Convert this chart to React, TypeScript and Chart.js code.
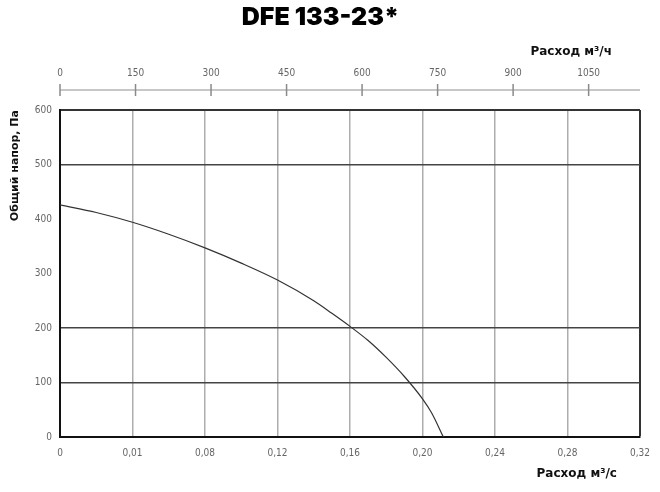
import React, { useEffect, useRef } from "react";
import Chart from "chart.js/auto";

// performance curve
const flowM3s = [0, 0.02, 0.04, 0.06, 0.08, 0.1, 0.12, 0.14, 0.15, 0.16, 0.17, 0.18, 0.19, 0.2, 0.205, 0.2115];
const pressurePa = [426, 412, 394, 372, 347, 319, 288, 250, 227, 203, 177, 146, 111, 70, 44.5, 0];

const xTickLabels = ["0", "0,01", "0,08", "0,12", "0,16", "0,20", "0,24", "0,28", "0,32"];
const yTickLabels = ["0", "100", "200", "300", "400", "500", "600"];
const topTickValues = [0, 150, 300, 450, 600, 750, 900, 1050];
const darkGridPa = [100, 200, 500];

const tickFont = { family: "'Liberation Sans Narrow', 'DejaVu Sans Condensed', sans-serif", size: 10 };
const boldFamily = "'DejaVu Sans', sans-serif";

const topAxisPlugin = {
    id: "topAxis",
    afterDraw(chart: any) {
        const ctx = chart.ctx;
        const area = chart.chartArea;
        const top = chart.scales.xTop;
        const lineY = area.top - 20;
        ctx.save();
        // axis line
        ctx.strokeStyle = "#b5b5b5";
        ctx.lineWidth = 1.5;
        ctx.beginPath();
        ctx.moveTo(top.left, lineY);
        ctx.lineTo(top.right, lineY);
        ctx.stroke();
        // tick marks
        ctx.strokeStyle = "#8a8a8a";
        topTickValues.forEach((v) => {
            const x = top.getPixelForValue(v);
            ctx.beginPath();
            ctx.moveTo(x, lineY - 6);
            ctx.lineTo(x, lineY + 6);
            ctx.stroke();
        });
        // axis titles
        ctx.fillStyle = "#111";
        ctx.font = "bold 12px " + boldFamily;
        ctx.textAlign = "right";
        ctx.textBaseline = "middle";
        ctx.fillText("Расход м³/ч", area.right - 28, 52);
        ctx.fillText("Расход м³/с", area.right - 23, 474);
        ctx.restore();
    },
};

const App: React.FC = () => {
    const chartRef = useRef<HTMLCanvasElement | null>(null);

    useEffect(() => {
        if (chartRef.current === null) return;
        const ctx = chartRef.current.getContext("2d");
        if (ctx === null) return;

        const chart = new Chart(ctx, {
            type: "line",
            data: {
                datasets: [{
                    data: flowM3s.map((x, i) => ({ x, y: pressurePa[i] })),
                    borderColor: "#333",
                    borderWidth: 1.2,
                    pointRadius: 0,
                    cubicInterpolationMode: "monotone",
                    fill: false,
                }],
            },
            options: {
                animation: false,
                responsive: false,
                layout: { padding: { left: 0, right: 19, top: 0, bottom: 0 } },
                plugins: {
                    legend: { display: false },
                    tooltip: { enabled: false },
                    title: {
                        display: true,
                        text: "DFE 133-23*",
                        color: "#000",
                        font: { family: "Inter, " + boldFamily, size: 25, weight: 900, lineHeight: 1 },
                        padding: { top: 5, bottom: 0 },
                    },
                },
                scales: {
                    x: {
                        type: "linear",
                        position: "bottom",
                        min: 0,
                        max: 0.32,
                        afterFit: (scale: any) => { scale.height = 55; },
                        ticks: {
                            stepSize: 0.04,
                            padding: 10,
                            color: "#666",
                            font: tickFont,
                            maxRotation: 0,
                            autoSkip: false,
                            callback: (_v: any, i: number) => xTickLabels[i],
                        },
                        grid: {
                            drawTicks: false,
                            color: (c: any) => c.index === 0 ? "transparent" : c.index === 8 ? "#333" : "#adadad",
                            lineWidth: (c: any) => c.index === 8 ? 2 : 1.5,
                        },
                        border: { color: "#111", width: 2 },
                    },
                    xTop: {
                        type: "linear",
                        position: "top",
                        min: 0,
                        max: 1152,
                        afterFit: (scale: any) => { scale.height = 80; },
                        ticks: {
                            stepSize: 150,
                            includeBounds: false,
                            padding: 31,
                            color: "#666",
                            font: tickFont,
                            maxRotation: 0,
                            autoSkip: false,
                            callback: (v: any) => topTickValues.includes(v) ? String(v) : "",
                        },
                        grid: { display: false, drawTicks: false },
                        border: { display: false },
                    },
                    y: {
                        type: "linear",
                        min: 0,
                        max: 600,
                        afterFit: (scale: any) => { scale.width = 60; },
                        title: {
                            display: true,
                            text: "Общий напор, Па",
                            align: "end",
                            color: "#111",
                            font: { family: boldFamily, size: 11, weight: "bold" },
                            padding: { top: 9, bottom: 0 },
                        },
                        ticks: {
                            stepSize: 100,
                            padding: 8,
                            color: "#666",
                            font: tickFont,
                            callback: (_v: any, i: number) => yTickLabels[i],
                        },
                        grid: {
                            drawTicks: false,
                            color: (c: any) => c.tick.value === 600 ? "#333" : darkGridPa.includes(c.tick.value) ? "#444" : "transparent",
                            lineWidth: (c: any) => c.tick.value === 600 ? 2 : 1.5,
                        },
                        border: { color: "#111", width: 2 },
                    },
                },
            },
            plugins: [topAxisPlugin],
        } as any);

        return () => {
            chart.destroy();
        };
    }, []);

    return (
        <div style={{ position: "absolute", left: 0, top: 0, width: 660, height: 492, background: "#fff" }}>
            <canvas ref={chartRef} width={660} height={492}></canvas>
        </div>
    );
};

export default App;
